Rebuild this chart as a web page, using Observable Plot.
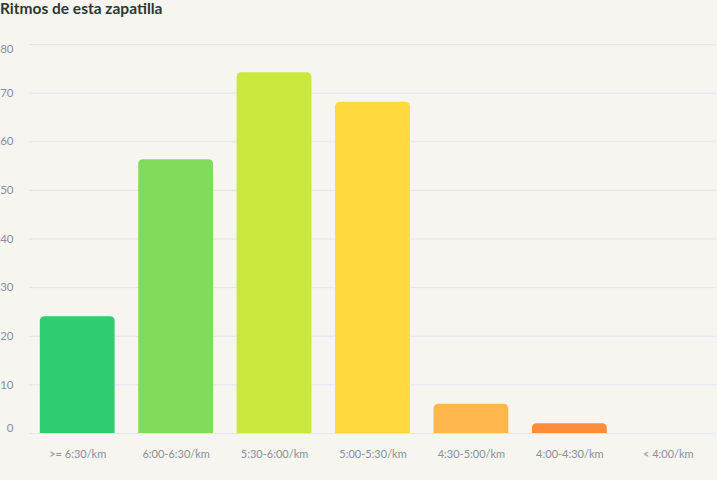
<!DOCTYPE html>
<html>
<head>
<meta charset="utf-8">
<script src="https://cdn.jsdelivr.net/npm/d3@7"></script>
<script src="https://cdn.jsdelivr.net/npm/@observablehq/plot@0.6"></script>
<style>
  html, body { margin: 0; padding: 0; background: #f6f5f0; }
  #title { font-family: Lato, "Noto Sans", sans-serif; font-weight: 700; font-size: 15.5px; color: #2b3833; height: 18px; line-height: 17px; padding-left: 0px; }
  #chart svg { display: block; }
</style>
</head>
<body>
<div id="title">Ritmos de esta zapatilla</div>
<div id="chart"></div>
<script>
const categories = [">= 6:30/km", "6:00-6:30/km", "5:30-6:00/km", "5:00-5:30/km", "4:30-5:00/km", "4:00-4:30/km", "< 4:00/km"];
const values = [24, 56.3, 74.2, 68.1, 6, 2, 0];
const yTicks = [0, 10, 20, 30, 40, 50, 60, 70, 80];
const palette = ["#2ecd71", "#80dc5a", "#c8e83d", "#ffd93d", "#ffb74e", "#ff8c3a", "#ff5a3a"];

const data = categories.map((c, i) => ({category: c, value: values[i]}));

const chart = Plot.plot({
  width: 717,
  height: 462,
  marginLeft: 29,
  marginRight: 0,
  marginTop: 26,
  marginBottom: 47,
  style: {background: "#f6f5f0", fontFamily: "Lato, 'Noto Sans', sans-serif", fontSize: "11px", color: "#8a8f99"},
  x: {domain: categories, paddingInner: 0.24, paddingOuter: 0.12, range: [28, 717], round: false, label: null},
  y: {domain: [0, 80], label: null},
  color: {domain: categories, range: palette},
  marks: [
    Plot.gridY(yTicks, {stroke: "#e3e5ee", strokeOpacity: 1, strokeWidth: 1}),
    Plot.barY(data, {x: "category", y: "value", fill: "category", rx1y1: 4.5, rx2y1: 4.5}),
    Plot.axisY(yTicks.filter(t => t > 0 && t < 80), {tickSize: 0, tickPadding: 16, label: null, fill: "#8a8f99", fontSize: 11.5}),
    Plot.axisY([80], {tickSize: 0, tickPadding: 16, label: null, fill: "#8a8f99", fontSize: 11.5, dy: 5}),
    Plot.axisY([0], {tickSize: 0, tickPadding: 16, label: null, fill: "#8a8f99", fontSize: 11.5, dy: -5}),
    Plot.axisX({tickSize: 0, tickPadding: 17, label: null, fill: "#8a8f99", fontSize: 11})
  ]
});
document.getElementById("chart").appendChild(chart);
</script>
</body>
</html>
